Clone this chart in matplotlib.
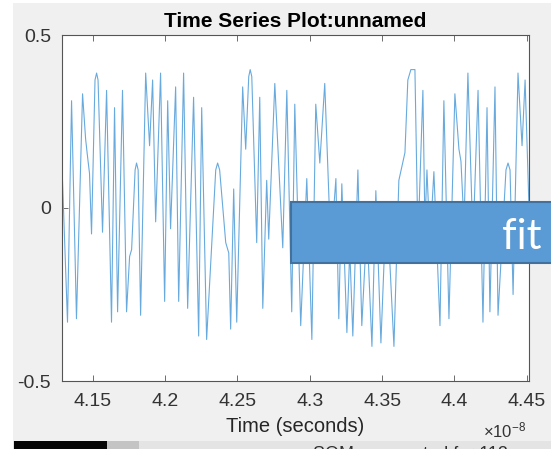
import matplotlib
matplotlib.use("Agg")
import matplotlib.pyplot as plt
import matplotlib.patches as patches
from matplotlib.ticker import FuncFormatter

plt.rcParams['font.family'] = ['Liberation Sans', 'DejaVu Sans']
plt.rcParams['axes.unicode_minus'] = False
plt.rcParams['mathtext.default'] = 'regular'

# time in units of 1e-8 s, values read at the peaks / troughs of the trace
time_e8 = [
    4.1289, 4.1327, 4.1355, 4.1389, 4.1431, 4.1452, 4.1465, 4.1479, 4.1493, 4.1517,
    4.1528, 4.1538, 4.1569, 4.1597, 4.1631, 4.1652, 4.1673, 4.1707, 4.1735, 4.1756,
    4.1770, 4.1794, 4.1804, 4.1815, 4.1832, 4.1867, 4.1894, 4.1915, 4.1936, 4.1970,
    4.1998, 4.2019, 4.2039, 4.2074, 4.2095, 4.2129, 4.2157, 4.2198, 4.2233, 4.2254,
    4.2288, 4.2351, 4.2364, 4.2378, 4.2420, 4.2441, 4.2454, 4.2475, 4.2496, 4.2537,
    4.2558, 4.2579, 4.2589, 4.2600, 4.2634, 4.2655, 4.2676, 4.2703, 4.2717, 4.2759,
    4.2814, 4.2842, 4.2876, 4.2897, 4.2938, 4.2980, 4.3015, 4.3042, 4.3070, 4.3104,
    4.3146, 4.3181, 4.3201, 4.3222, 4.3257, 4.3277, 4.3298, 4.3333, 4.3360, 4.3395,
    4.3430, 4.3457, 4.3492, 4.3519, 4.3547, 4.3582, 4.3616, 4.3637, 4.3658, 4.3678,
    4.3699, 4.3727, 4.3748, 4.3782, 4.3796, 4.3810, 4.3831, 4.3858, 4.3900, 4.3927,
    4.3962, 4.4003, 4.4031, 4.4045, 4.4066, 4.4093, 4.4128, 4.4163, 4.4197, 4.4225,
    4.4245, 4.4280, 4.4301, 4.4356, 4.4370, 4.4384, 4.4405, 4.4439, 4.4467, 4.4488,
    4.4515,
]
signal = [
    0.12, -0.33, 0.31, -0.32, 0.33, 0.20, 0.15, 0.10, -0.075, 0.37,
    0.39, 0.37, -0.07, 0.34, -0.33, 0.29, -0.30, 0.34, -0.30, -0.14,
    -0.12, 0.11, 0.13, 0.11, -0.31, 0.39, 0.18, 0.37, -0.04, 0.39,
    -0.27, 0.31, -0.06, 0.35, -0.27, 0.39, -0.29, 0.32, -0.37, 0.29,
    -0.38, 0.11, 0.13, 0.11, -0.10, -0.13, -0.35, 0.055, -0.33, 0.35,
    0.17, 0.38, 0.40, 0.38, -0.10, 0.32, -0.29, 0.08, -0.09, 0.36,
    -0.115, 0.34, -0.30, 0.30, -0.34, 0.085, -0.38, 0.30, 0.13, 0.36,
    -0.12, 0.085, -0.32, 0.07, -0.36, -0.12, -0.37, 0.11, -0.34, -0.05,
    -0.40, 0.05, -0.39, -0.10, -0.10, -0.40, 0.08, 0.12, 0.16, 0.37,
    0.40, 0.40, -0.10, 0.34, -0.05, 0.11, -0.10, 0.105, -0.34, 0.31,
    -0.32, 0.33, 0.17, 0.135, -0.05, 0.39, -0.10, 0.34, -0.33, 0.29,
    -0.30, 0.35, -0.31, 0.11, 0.13, 0.11, -0.25, 0.39, 0.18, 0.37,
    0.0,
]
x_ticks = [4.15, 4.2, 4.25, 4.3, 4.35, 4.4, 4.45]
y_ticks = [-0.5, 0, 0.5]

W, H = 551, 449
fig = plt.figure(figsize=(W / 100, H / 100), dpi=100)
fig.patch.set_facecolor('white')

def fx(px):
    return px / W

def fy(py):
    return 1 - py / H

def strip(x0, y0, x1, y1, color, z=-10):
    # rectangle given in picture pixels (top-left origin)
    fig.patches.append(patches.Rectangle((fx(x0), fy(y1)), (x1 - x0) / W, (y1 - y0) / H,
                                         transform=fig.transFigure, facecolor=color,
                                         edgecolor='none', zorder=z))

# screenshot window background and bottom strip
strip(13, 3, W, 441, '#f0f0f0')
strip(13, 441, W, H, '#e4e4e4')
strip(14, 441, 107, H, '#050505')
strip(107, 441, 139, H, '#c4c4c4')
fig.text(fx(313), fy(459), 'SOM segmented for 112', fontsize=13, color='#303030',
         va='baseline', ha='left')

ax = fig.add_axes([fx(62), fy(381), (529 - 62) / W, (381 - 35) / H])
ax.set_facecolor('white')
ax.plot(time_e8, signal, color='#68aadd', lw=0.8, solid_joinstyle='round')

ax.set_xlim(4.1289, 4.4515)
ax.set_ylim(-0.5, 0.5)
ax.set_xticks(x_ticks)
ax.set_yticks(y_ticks)
fmt = FuncFormatter(lambda v, p: '%g' % v)
ax.xaxis.set_major_formatter(fmt)
ax.yaxis.set_major_formatter(fmt)
ax.tick_params(direction='in', top=True, right=True, length=4, width=0.6,
               color='#555555', labelsize=14, labelcolor='#333333')
ax.tick_params(axis='x', pad=9)
ax.tick_params(axis='y', pad=8)
for s in ax.spines.values():
    s.set_color('#555555')
    s.set_linewidth(0.8)

ax.set_title('Time Series Plot:unnamed', fontsize=15, fontweight='bold', color='black', pad=6)
ax.set_xlabel('Time (seconds)', fontsize=14.5, color='#262626', labelpad=5)
fig.text(fx(483), fy(437), r'$\times10^{-8}$', fontsize=12, color='#333333',
         ha='left', va='baseline')

# overlaid "fit" shape
fig.patches.append(patches.Rectangle((fx(291), fy(263)), 300 / W, 61 / H,
                                     transform=fig.transFigure, facecolor='#5b9bd5',
                                     edgecolor='#41719c', linewidth=1.5, zorder=5))
fig.text(fx(502), fy(249), 'fit', fontsize=30, color='white', family='Lato',
         ha='left', va='baseline', zorder=6)

fig.savefig('out.png', dpi=100, facecolor=fig.get_facecolor())
